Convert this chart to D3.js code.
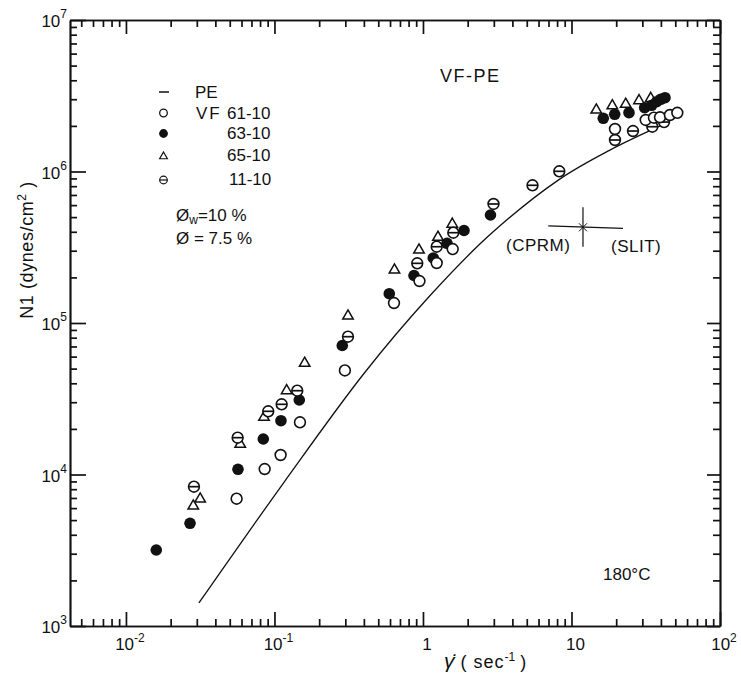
<!DOCTYPE html>
<html>
<head>
<meta charset="utf-8">
<script src="https://cdn.jsdelivr.net/npm/d3@7"></script>
<style>
body { margin: 0; background: #fff; }
text { font-family: "Liberation Sans", Arial, sans-serif; fill: #111; }
</style>
</head>
<body>
<script>
var width = 741
var height = 675

// PE reference curve
var peRate = [0.0310, 0.1159, 0.4006, 1.097, 2.783, 8.238, 17.88, 41.98]
var peN1 = [1419, 8881, 46420, 148900, 377500, 884300, 1374000, 2052000]

// VF61-10, open circles
var vf61Rate = [0.0556, 0.0859, 0.110, 0.1485, 0.298, 0.638, 0.947, 1.237, 1.585, 19.63, 31.6, 35.9, 39.45, 46.0, 51.6]
var vf61N1 = [6920, 10870, 13450, 22110, 48600, 135500, 189300, 248900, 307800, 1908000, 2188000, 2265000, 2280000, 2360000, 2440000]

// VF63-10, filled circles
var vf63Rate = [0.016, 0.027, 0.0568, 0.0841, 0.1106, 0.1469, 0.2862, 0.593, 0.870, 1.173, 1.451, 1.889, 2.848, 16.37, 19.54, 24.39, 31.1, 34.67, 37.47, 39.87, 42.62]
var vf63N1 = [3175, 4763, 10820, 17150, 22650, 31020, 71040, 156100, 205800, 268500, 335800, 407900, 516400, 2245000, 2385000, 2444000, 2637000, 2735000, 2888000, 2996000, 3070000]

// VF65-10, triangles
var vf65Rate = [0.0284, 0.0316, 0.0588, 0.085, 0.1208, 0.1597, 0.3126, 0.6426, 0.940, 1.262, 1.575, 14.69, 18.83, 23.17, 28.49, 34.15]
var vf65N1 = [6196, 6890, 15820, 23850, 35740, 54200, 111200, 223800, 303300, 367900, 448900, 2547000, 2718000, 2777000, 2933000, 3040000]

// VF11-10, circles with a bar
var vf11Rate = [0.0287, 0.0565, 0.0908, 0.1118, 0.1424, 0.3126, 0.915, 1.237, 1.6, 2.984, 5.463, 8.277, 19.63, 25.95, 35.0, 41.98]
var vf11N1 = [8310, 17500, 26130, 29060, 35740, 81220, 247700, 318800, 394500, 610300, 811000, 1003000, 1614000, 1850000, 1975000, 2120000]

// CPRM / SLIT cross
var crossRate = [6.98, 11.95, 22.23]
var crossN1 = [318800, 428200, 580300]

// tick labels
var xMajor = [0.01, 0.1, 1, 10, 100]
var xTickBase = ["10", "10", "1", "10", "10"]
var xTickExp = ["-2", "-1", "", "", "2"]
var yMajor = [1e3, 1e4, 1e5, 1e6, 1e7]
var yTickExp = ["3", "4", "5", "6", "7"]

var svg = d3.select("body")
	.append("svg")
	.attr("width", width)
	.attr("height", height)

var x = d3.scaleLog().domain([0.0042, 100]).range([70, 720])
var y = d3.scaleLog().domain([1e3, 1e7]).range([626, 20])

function isMajor(d) {
	var l = Math.log10(d)
	return Math.abs(l - Math.round(l)) < 1e-6
}
var xMinor = x.ticks().filter(function(d) { return !isMajor(d) })
var yMinor = y.ticks().filter(function(d) { return !isMajor(d) })

function styleAxis(g) {
	g.selectAll("path, line").attr("stroke", "#111").attr("stroke-width", 1.7)
	g.selectAll("text").remove()
}

// frame and inward ticks on all four sides
svg.append("g").attr("transform", "translate(0,626)")
	.call(d3.axisBottom(x).tickValues(xMinor).tickSize(-7).tickSizeOuter(0)).call(styleAxis)
svg.append("g").attr("transform", "translate(0,626)")
	.call(d3.axisBottom(x).tickValues(xMajor).tickSize(-14).tickSizeOuter(0)).call(styleAxis)
svg.append("g").attr("transform", "translate(0,20)")
	.call(d3.axisTop(x).tickValues(xMinor).tickSize(-7).tickSizeOuter(0)).call(styleAxis)
svg.append("g").attr("transform", "translate(0,20)")
	.call(d3.axisTop(x).tickValues(xMajor).tickSize(-14).tickSizeOuter(0)).call(styleAxis)
svg.append("g").attr("transform", "translate(70,0)")
	.call(d3.axisLeft(y).tickValues(yMinor).tickSize(-7).tickSizeOuter(0)).call(styleAxis)
svg.append("g").attr("transform", "translate(70,0)")
	.call(d3.axisLeft(y).tickValues(yMajor).tickSize(-16).tickSizeOuter(0)).call(styleAxis)
svg.append("g").attr("transform", "translate(720,0)")
	.call(d3.axisRight(y).tickValues(yMinor).tickSize(-7).tickSizeOuter(0)).call(styleAxis)
svg.append("g").attr("transform", "translate(720,0)")
	.call(d3.axisRight(y).tickValues(yMajor).tickSize(-13).tickSizeOuter(0)).call(styleAxis)

// x tick labels
var xl = svg.selectAll(".xl").data(xMajor).enter().append("text")
	.attr("class", "xl")
	.attr("x", function(d) { return x(d) + 4 })
	.attr("y", 650)
	.attr("text-anchor", "middle")
	.style("font-size", "17px")
xl.append("tspan").text(function(d, i) { return xTickBase[i] })
xl.append("tspan").attr("dy", -8).style("font-size", "12px").text(function(d, i) { return xTickExp[i] })

// y tick labels
var yl = svg.selectAll(".yl").data(yMajor).enter().append("text")
	.attr("class", "yl")
	.attr("x", 67)
	.attr("y", function(d) { return y(d) + 7 })
	.attr("text-anchor", "end")
	.style("font-size", "17px")
yl.append("tspan").text("10")
yl.append("tspan").attr("dy", -9).style("font-size", "12px").text(function(d, i) { return yTickExp[i] })

// axis titles
var xt = svg.append("text").attr("x", 444).attr("y", 668).style("font-size", "18px")
xt.append("tspan").style("font-style", "italic").style("font-size", "21px").text("\u03B3\u0307")
xt.append("tspan").style("letter-spacing", "1px").text(" ( sec")
xt.append("tspan").attr("dy", -7).style("font-size", "12px").text("-1")
xt.append("tspan").attr("dy", 7).text(" )")

var yt = svg.append("text")
	.attr("transform", "translate(33,250) rotate(-90)")
	.attr("text-anchor", "middle")
	.style("font-size", "18px")
	.style("letter-spacing", "0.6px")
yt.append("tspan").text("N1 (dynes/cm")
yt.append("tspan").attr("dy", -7).style("font-size", "12px").text("2")
yt.append("tspan").attr("dy", 7).text(" )")

// PE curve
var line = d3.line()
	.x(function(d, i) { return x(peRate[i]) })
	.y(function(d, i) { return y(peN1[i]) })
	.curve(d3.curveCatmullRom)
svg.append("path")
	.attr("d", line(peRate))
	.attr("fill", "none")
	.attr("stroke", "#111")
	.attr("stroke-width", 1.3)

// markers
var tri = d3.symbol().type(d3.symbolTriangle).size(48)
var r = 5.4

svg.selectAll(".t65").data(vf65Rate).enter().append("path")
	.attr("d", tri)
	.attr("transform", function(d, i) { return "translate(" + x(d) + "," + y(vf65N1[i]) + ")" })
	.attr("fill", "#fff").attr("stroke", "#111").attr("stroke-width", 1.5)

svg.selectAll(".f63").data(vf63Rate).enter().append("circle")
	.attr("cx", function(d) { return x(d) })
	.attr("cy", function(d, i) { return y(vf63N1[i]) })
	.attr("r", r + 0.4).attr("fill", "#111")

var th = svg.selectAll(".t11").data(vf11Rate).enter().append("g")
	.attr("transform", function(d, i) { return "translate(" + x(d) + "," + y(vf11N1[i]) + ")" })
th.append("circle").attr("r", r).attr("fill", "#fff").attr("stroke", "#111").attr("stroke-width", 1.6)
th.append("line").attr("x1", -r).attr("x2", r).attr("stroke", "#111").attr("stroke-width", 1.7)

svg.selectAll(".o61").data(vf61Rate).enter().append("circle")
	.attr("cx", function(d) { return x(d) })
	.attr("cy", function(d, i) { return y(vf61N1[i]) })
	.attr("r", r).attr("fill", "#fff").attr("stroke", "#111").attr("stroke-width", 1.6)

// CPRM / SLIT cross
var cx = x(crossRate[1]), cy = y(crossN1[1])
svg.append("line").attr("x1", x(crossRate[0])).attr("x2", x(crossRate[2]))
	.attr("y1", cy - 1.5).attr("y2", cy + 1).attr("stroke", "#111").attr("stroke-width", 1.2)
svg.append("line").attr("x1", cx).attr("x2", cx)
	.attr("y1", y(crossN1[2])).attr("y2", y(crossN1[0])).attr("stroke", "#111").attr("stroke-width", 1.2)
svg.append("path")
	.attr("d", "M" + (cx - 4) + "," + (cy - 4) + "L" + (cx + 4) + "," + (cy + 4) + "M" + (cx - 4) + "," + (cy + 4) + "L" + (cx + 4) + "," + (cy - 4))
	.attr("stroke", "#111").attr("stroke-width", 1)
svg.append("text").attr("x", 506).attr("y", 251).style("font-size", "17px").style("letter-spacing", "0.5px").text("(CPRM)")
svg.append("text").attr("x", 611).attr("y", 252).style("font-size", "17px").style("letter-spacing", "0.5px").text("(SLIT)")

// title and notes
svg.append("text").attr("x", 440).attr("y", 82).style("font-size", "18px")
	.style("letter-spacing", "1.5px").text("VF-PE")
svg.append("text").attr("x", 603).attr("y", 580).style("font-size", "17px").text("180\u00B0C")

// legend
var lg = svg.append("g")
lg.append("line").attr("x1", 159).attr("x2", 169).attr("y1", 92).attr("y2", 92)
	.attr("stroke", "#111").attr("stroke-width", 1.5)
lg.append("circle").attr("cx", 163.5).attr("cy", 113).attr("r", 3.8)
	.attr("fill", "#fff").attr("stroke", "#111").attr("stroke-width", 1.3)
lg.append("circle").attr("cx", 163.5).attr("cy", 133.5).attr("r", 4.4).attr("fill", "#111")
lg.append("path").attr("d", d3.symbol().type(d3.symbolTriangle).size(26))
	.attr("transform", "translate(163.5,156.5)")
	.attr("fill", "#fff").attr("stroke", "#111").attr("stroke-width", 1.2)
lg.append("circle").attr("cx", 163.5).attr("cy", 180).attr("r", 3.8)
	.attr("fill", "#fff").attr("stroke", "#111").attr("stroke-width", 1.2)
lg.append("line").attr("x1", 159.7).attr("x2", 167.3).attr("y1", 180).attr("y2", 180)
	.attr("stroke", "#111").attr("stroke-width", 1.2)

lg.append("text").attr("x", 195).attr("y", 98).style("font-size", "17px").text("PE")
lg.append("text").attr("x", 196).attr("y", 119).style("font-size", "17px").style("letter-spacing", "2px").text("VF")
lg.append("text").attr("x", 227).attr("y", 119).style("font-size", "17px").text("61-10")
lg.append("text").attr("x", 227).attr("y", 139).style("font-size", "17px").text("63-10")
lg.append("text").attr("x", 227).attr("y", 161).style("font-size", "17px").text("65-10")
lg.append("text").attr("x", 229).attr("y", 185).style("font-size", "17px").text("11-10")

var p1 = lg.append("text").attr("x", 176).attr("y", 221).style("font-size", "17px")
p1.append("tspan").text("\u00D8")
p1.append("tspan").attr("dy", 3).style("font-size", "12px").text("w")
p1.append("tspan").attr("dy", -3).text("=10 %")
lg.append("text").attr("x", 176).attr("y", 244).style("font-size", "17px").text("\u00D8  = 7.5 %")
</script>
</body>
</html>
